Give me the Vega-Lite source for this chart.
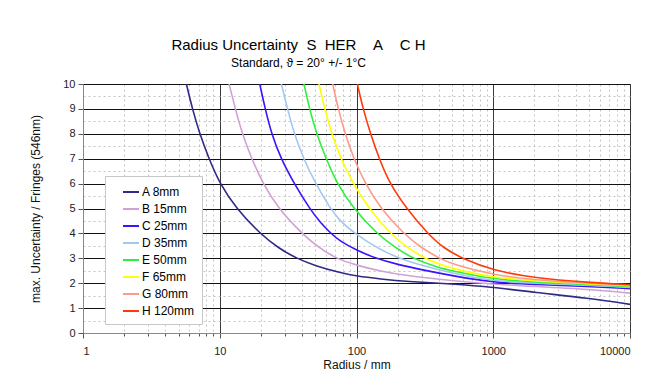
{
  "$schema": "https://vega.github.io/schema/vega-lite/v6.json",
  "width": 547,
  "height": 249,
  "autosize": {"type": "none"},
  "padding": {"left": 83, "top": 84, "right": 16, "bottom": 43},
  "background": "#ffffff",
  "config": {
    "font": "Liberation Sans",
    "view": {"stroke": "#8a8a8a", "strokeWidth": 1}
  },
  "title": {
    "text": "Radius Uncertainty\u00a0\u00a0S\u00a0\u00a0HER\u00a0\u00a0\u00a0\u00a0A\u00a0\u00a0\u00a0\u00a0C\u00a0H",
    "subtitle": "Standard, ϑ = 20° +/- 1°C",
    "font": "Liberation Sans",
    "subtitleFont": "Liberation Sans",
    "fontSize": 15,
    "subtitleFontSize": 12,
    "fontWeight": "normal",
    "color": "#000000",
    "subtitleColor": "#000000",
    "anchor": "middle",
    "dx": -58,
    "offset": 9,
    "subtitlePadding": 5
  },
  "data": {
    "values": [
      {"s": "A 8mm", "r": 5.7, "u": 10}, {"s": "A 8mm", "r": 6.31, "u": 9}, {"s": "A 8mm", "r": 7.13, "u": 8}, {"s": "A 8mm", "r": 8.34, "u": 7}, {"s": "A 8mm", "r": 10, "u": 6}, {"s": "A 8mm", "r": 13.2, "u": 5}, {"s": "A 8mm", "r": 19.6, "u": 4}, {"s": "A 8mm", "r": 27, "u": 3.4}, {"s": "A 8mm", "r": 36.3, "u": 3}, {"s": "A 8mm", "r": 50, "u": 2.7}, {"s": "A 8mm", "r": 75, "u": 2.43}, {"s": "A 8mm", "r": 100, "u": 2.28}, {"s": "A 8mm", "r": 150, "u": 2.17}, {"s": "A 8mm", "r": 231, "u": 2.07}, {"s": "A 8mm", "r": 500, "u": 1.97}, {"s": "A 8mm", "r": 1000, "u": 1.84}, {"s": "A 8mm", "r": 2000, "u": 1.63}, {"s": "A 8mm", "r": 5000, "u": 1.4}, {"s": "A 8mm", "r": 10000, "u": 1.15},
      {"s": "B 15mm", "r": 11.7, "u": 10}, {"s": "B 15mm", "r": 13.0, "u": 9}, {"s": "B 15mm", "r": 14.6, "u": 8}, {"s": "B 15mm", "r": 17.1, "u": 7}, {"s": "B 15mm", "r": 20.7, "u": 6}, {"s": "B 15mm", "r": 26.8, "u": 5}, {"s": "B 15mm", "r": 39.8, "u": 4}, {"s": "B 15mm", "r": 51, "u": 3.5}, {"s": "B 15mm", "r": 70, "u": 3.0}, {"s": "B 15mm", "r": 100, "u": 2.72}, {"s": "B 15mm", "r": 150, "u": 2.48}, {"s": "B 15mm", "r": 231, "u": 2.3}, {"s": "B 15mm", "r": 500, "u": 2.1}, {"s": "B 15mm", "r": 1000, "u": 1.96}, {"s": "B 15mm", "r": 2000, "u": 1.87}, {"s": "B 15mm", "r": 5000, "u": 1.75}, {"s": "B 15mm", "r": 10000, "u": 1.6},
      {"s": "C 25mm", "r": 19.6, "u": 10}, {"s": "C 25mm", "r": 21.5, "u": 9}, {"s": "C 25mm", "r": 23.9, "u": 8}, {"s": "C 25mm", "r": 28.0, "u": 7}, {"s": "C 25mm", "r": 35.0, "u": 6}, {"s": "C 25mm", "r": 45.4, "u": 5}, {"s": "C 25mm", "r": 54, "u": 4.45}, {"s": "C 25mm", "r": 65, "u": 4}, {"s": "C 25mm", "r": 75, "u": 3.7}, {"s": "C 25mm", "r": 100, "u": 3.32}, {"s": "C 25mm", "r": 138, "u": 3.0}, {"s": "C 25mm", "r": 200, "u": 2.75}, {"s": "C 25mm", "r": 300, "u": 2.54}, {"s": "C 25mm", "r": 500, "u": 2.3}, {"s": "C 25mm", "r": 1000, "u": 2.03}, {"s": "C 25mm", "r": 2000, "u": 1.95}, {"s": "C 25mm", "r": 5000, "u": 1.87}, {"s": "C 25mm", "r": 10000, "u": 1.78},
      {"s": "D 35mm", "r": 28.2, "u": 10}, {"s": "D 35mm", "r": 31.3, "u": 9}, {"s": "D 35mm", "r": 35.0, "u": 8}, {"s": "D 35mm", "r": 41.0, "u": 7}, {"s": "D 35mm", "r": 50.2, "u": 6}, {"s": "D 35mm", "r": 64.5, "u": 5}, {"s": "D 35mm", "r": 75, "u": 4.52}, {"s": "D 35mm", "r": 97, "u": 4}, {"s": "D 35mm", "r": 140, "u": 3.42}, {"s": "D 35mm", "r": 203, "u": 3.0}, {"s": "D 35mm", "r": 300, "u": 2.72}, {"s": "D 35mm", "r": 500, "u": 2.4}, {"s": "D 35mm", "r": 1000, "u": 2.08}, {"s": "D 35mm", "r": 2000, "u": 2.0}, {"s": "D 35mm", "r": 5000, "u": 1.92}, {"s": "D 35mm", "r": 10000, "u": 1.83},
      {"s": "E 50mm", "r": 41.3, "u": 10}, {"s": "E 50mm", "r": 45.3, "u": 9}, {"s": "E 50mm", "r": 51.0, "u": 8}, {"s": "E 50mm", "r": 60.0, "u": 7}, {"s": "E 50mm", "r": 72, "u": 6}, {"s": "E 50mm", "r": 95, "u": 5}, {"s": "E 50mm", "r": 140, "u": 4}, {"s": "E 50mm", "r": 190, "u": 3.45}, {"s": "E 50mm", "r": 255, "u": 3.0}, {"s": "E 50mm", "r": 400, "u": 2.62}, {"s": "E 50mm", "r": 500, "u": 2.5}, {"s": "E 50mm", "r": 1000, "u": 2.16}, {"s": "E 50mm", "r": 2000, "u": 2.04}, {"s": "E 50mm", "r": 5000, "u": 1.95}, {"s": "E 50mm", "r": 10000, "u": 1.87},
      {"s": "F 65mm", "r": 53.1, "u": 10}, {"s": "F 65mm", "r": 58.6, "u": 9}, {"s": "F 65mm", "r": 65.8, "u": 8}, {"s": "F 65mm", "r": 76.8, "u": 7}, {"s": "F 65mm", "r": 94.5, "u": 6}, {"s": "F 65mm", "r": 123, "u": 5}, {"s": "F 65mm", "r": 176, "u": 4}, {"s": "F 65mm", "r": 232, "u": 3.45}, {"s": "F 65mm", "r": 310, "u": 3.0}, {"s": "F 65mm", "r": 500, "u": 2.57}, {"s": "F 65mm", "r": 1000, "u": 2.23}, {"s": "F 65mm", "r": 2000, "u": 2.08}, {"s": "F 65mm", "r": 5000, "u": 1.98}, {"s": "F 65mm", "r": 10000, "u": 1.9},
      {"s": "G 80mm", "r": 67.0, "u": 10}, {"s": "G 80mm", "r": 73.5, "u": 9}, {"s": "G 80mm", "r": 82.5, "u": 8}, {"s": "G 80mm", "r": 95.5, "u": 7}, {"s": "G 80mm", "r": 116, "u": 6}, {"s": "G 80mm", "r": 150, "u": 5}, {"s": "G 80mm", "r": 220, "u": 4}, {"s": "G 80mm", "r": 300, "u": 3.4}, {"s": "G 80mm", "r": 405, "u": 3.0}, {"s": "G 80mm", "r": 500, "u": 2.76}, {"s": "G 80mm", "r": 1000, "u": 2.33}, {"s": "G 80mm", "r": 2000, "u": 2.13}, {"s": "G 80mm", "r": 5000, "u": 2.0}, {"s": "G 80mm", "r": 10000, "u": 1.92},
      {"s": "H 120mm", "r": 101.4, "u": 10}, {"s": "H 120mm", "r": 111.8, "u": 9}, {"s": "H 120mm", "r": 126.5, "u": 8}, {"s": "H 120mm", "r": 146.5, "u": 7}, {"s": "H 120mm", "r": 175, "u": 6}, {"s": "H 120mm", "r": 232, "u": 5}, {"s": "H 120mm", "r": 330, "u": 4}, {"s": "H 120mm", "r": 435, "u": 3.4}, {"s": "H 120mm", "r": 590, "u": 3.0}, {"s": "H 120mm", "r": 1000, "u": 2.51}, {"s": "H 120mm", "r": 2000, "u": 2.21}, {"s": "H 120mm", "r": 5000, "u": 2.03}, {"s": "H 120mm", "r": 10000, "u": 1.94}
    ]
  },
  "layer": [
    {
      "mark": {"type": "line", "opacity": 0},
      "encoding": {
        "x": {
          "field": "r", "type": "quantitative",
          "scale": {"type": "log", "domain": [1, 10000], "nice": false},
          "axis": {
            "orient": "bottom",
            "values": [2, 3, 4, 5, 6, 7, 8, 9, 20, 30, 40, 50, 60, 70, 80, 90, 200, 300, 400, 500, 600, 700, 800, 900, 2000, 3000, 4000, 5000, 6000, 7000, 8000, 9000],
            "grid": true, "gridColor": "#c4c4c4", "gridDash": [2, 3], "gridWidth": 1,
            "labels": false, "ticks": true, "tickSize": 3, "tickColor": "#555555",
            "domain": false, "title": null
          }
        },
        "y": {
          "field": "u", "type": "quantitative",
          "scale": {"domain": [0, 10], "nice": false, "zero": true},
          "axis": {
            "orient": "left",
            "values": [0.5, 1.5, 2.5, 3.5, 4.5, 5.5, 6.5, 7.5, 8.5, 9.5],
            "grid": true, "gridColor": "#c4c4c4", "gridDash": [2, 3], "gridWidth": 1,
            "labels": false, "ticks": false, "domain": false, "title": null
          }
        },
        "detail": {"field": "s"}
      }
    },
    {
      "mark": {"type": "line", "strokeWidth": 1.6, "interpolate": "basis", "clip": true},
      "encoding": {
        "x": {
          "field": "r", "type": "quantitative",
          "scale": {"type": "log", "domain": [1, 10000], "nice": false},
          "axis": {
            "orient": "bottom",
            "values": [1, 10, 100, 1000, 10000],
            "format": "d",
            "grid": true, "gridColor": "#3a3a3a", "gridWidth": 1,
            "ticks": true, "tickSize": 5, "tickColor": "#555555",
            "domain": true, "domainColor": "#8a8a8a",
            "labelFont": "Liberation Sans", "labelFontSize": 11, "labelColor": "#222222", "labelPadding": 7,
            "title": "Radius / mm", "titleFont": "Liberation Sans", "titleFontSize": 12, "titleFontWeight": "normal", "titleColor": "#111111", "titlePadding": 3
          }
        },
        "y": {
          "field": "u", "type": "quantitative",
          "scale": {"domain": [0, 10], "nice": false, "zero": true},
          "axis": {
            "orient": "left",
            "values": [0, 1, 2, 3, 4, 5, 6, 7, 8, 9, 10],
            "grid": true, "gridColor": "#111111", "gridWidth": 1,
            "ticks": true, "tickSize": 5, "tickColor": "#555555",
            "domain": true, "domainColor": "#8a8a8a",
            "labelFont": "Liberation Sans", "labelFontSize": 11, "labelColor": "#222222", "labelPadding": 3,
            "title": "max. Uncertainty / Fringes (546nm)", "titleFont": "Liberation Sans", "titleFontSize": 12, "titleFontWeight": "normal", "titleColor": "#111111", "titlePadding": 20
          }
        },
        "color": {
          "field": "s", "type": "nominal",
          "scale": {
            "domain": ["A 8mm", "B 15mm", "C 25mm", "D 35mm", "E 50mm", "F 65mm", "G 80mm", "H 120mm"],
            "range": ["#2e2a85", "#d2a0d2", "#3a14ff", "#a0c8f0", "#2ef03c", "#ffff00", "#ff9a8a", "#ff3a0a"]
          },
          "legend": {
            "orient": "none", "legendX": 22, "legendY": 92,
            "title": null,
            "symbolType": "stroke", "symbolSize": 256, "symbolStrokeWidth": 2,
            "labelFont": "Liberation Sans", "labelFontSize": 12, "labelColor": "#000000", "labelOffset": 2,
            "padding": 7, "rowPadding": 2, "symbolOffset": 10,
            "fillColor": "#ffffff", "strokeColor": "#c8c8c8"
          }
        }
      }
    }
  ],
  "resolve": {"axis": {"x": "independent", "y": "independent"}}
}
